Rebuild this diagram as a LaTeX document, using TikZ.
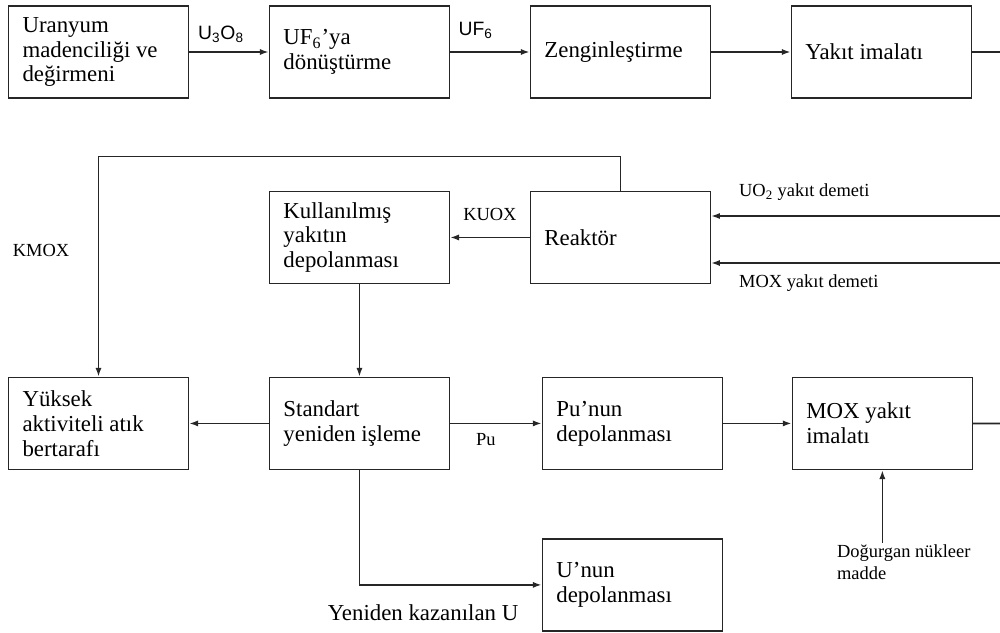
\documentclass[tikz,border=0pt]{standalone}
\usepackage{fontspec}
\setmainfont{Liberation Serif}
\newfontfamily\labelsans{Liberation Sans}
\usetikzlibrary{arrows.meta}
\begin{document}
\begin{tikzpicture}
[x=0.02cm, y=-0.02cm, node distance=5.22cm, font=\fontsize{13}{14.2}\selectfont, >={Latex[length=5pt,width=3.5pt]}]
\tikzstyle{stage}=[rectangle, draw=black!85, line width=0.9pt, minimum width=3.6cm, minimum height=1.84cm, text width=3.04cm, inner xsep=0.28cm, align=flush left]
\tikzstyle{flow}=[draw=black!85, line width=0.9pt]
\tikzstyle{tag}=[font=\fontsize{10.5}{12.5}\selectfont, inner sep=1pt]
\tikzstyle{chem}=[font=\labelsans\fontsize{11}{13}\selectfont, inner sep=1pt]
\useasboundingbox (0,0) rectangle (1000,632);

% front end
\node[stage]	(mine)		at (98.5,52)		{Uranyum\\madenciliği ve\\değirmeni};
\node[stage]	(conv)		[right of=mine]		{UF\textsubscript{6}’ya\\dönüştürme};
\node[stage]	(enrich)	[right of=conv]		{Zenginleştirme};
\node[stage]	(fab)		[right of=enrich]	{Yakıt imalatı};

% reactor row
\node[stage]	(reactor)	[below of=enrich, node distance=3.71cm]	{Reaktör};
\node[stage]	(spent)		[below of=conv, node distance=3.71cm]	{Kullanılmış\\yakıtın\\depolanması};

% back end
\node[stage]	(repro)		[below of=spent, node distance=3.72cm]	{Standart\\yeniden işleme};
\node[stage]	(hlw)		[left of=repro]							{Yüksek\\aktiviteli atık\\bertarafı};
\node[stage]	(pustore)	[right of=repro, node distance=5.46cm]	{Pu’nun\\depolanması};
\node[stage]	(moxfab)	[right of=pustore, node distance=5cm]	{MOX yakıt\\imalatı};
\node[stage]	(ustore)	[below of=pustore, node distance=3.23cm]	{U’nun\\depolanması};

% free labels
\node[tag]	(kmox)		at (41,250)		{KMOX};
\node[tag, anchor=west]	(uo2tag)	at (737,192)	{UO\textsubscript{2} yakıt demeti};
\node[tag, anchor=west]	(moxtag)	at (737,283)	{MOX yakıt demeti};
\node[tag, text width=3.2cm, align=flush left, anchor=north west]	(fertile)	at (835,543)	{Doğurgan nükleer\\madde};
\node		(reclaim)	at (423,613)	{Yeniden kazanılan U};

\coordinate (fabout) at (1000,52);
\coordinate (uo2in) at (1000,216);
\coordinate (moxin) at (1000,263);
\coordinate (moxout) at (1000,423.5);

\draw[flow,->] (mine) -- node[chem, above=4pt, pos=0.4] {U\textsubscript{3}O\textsubscript{8}} (conv);
\draw[flow,->] (conv) -- node[chem, above=6pt, pos=0.32] {UF\textsubscript{6}} (enrich);
\draw[flow,->] (enrich) -- (fab);
\draw[flow] (fab) -- (fabout);

\draw[flow,->] (uo2in) -- (uo2in -| reactor.east);
\draw[flow,->] (moxin) -- (moxin -| reactor.east);
\draw[flow,->] (reactor) -- node[tag, above=8pt] {KUOX} (spent);
\draw[flow,->] (reactor.north) -- ++(0,-34) -| (hlw.north);
\draw[flow,->] (spent) -- (repro);

\draw[flow,->] (repro) -- (hlw);
\draw[flow,->] (repro) -- node[tag, below=4pt, pos=0.39] {Pu} (pustore);
\draw[flow,->] (pustore) -- (moxfab);
\draw[flow] (moxfab) -- (moxout);
\draw[flow,->] (moxfab.south |- fertile.north) -- (moxfab.south);
\draw[flow,->] (repro.south) |- (ustore.west);
\end{tikzpicture}
\end{document}
